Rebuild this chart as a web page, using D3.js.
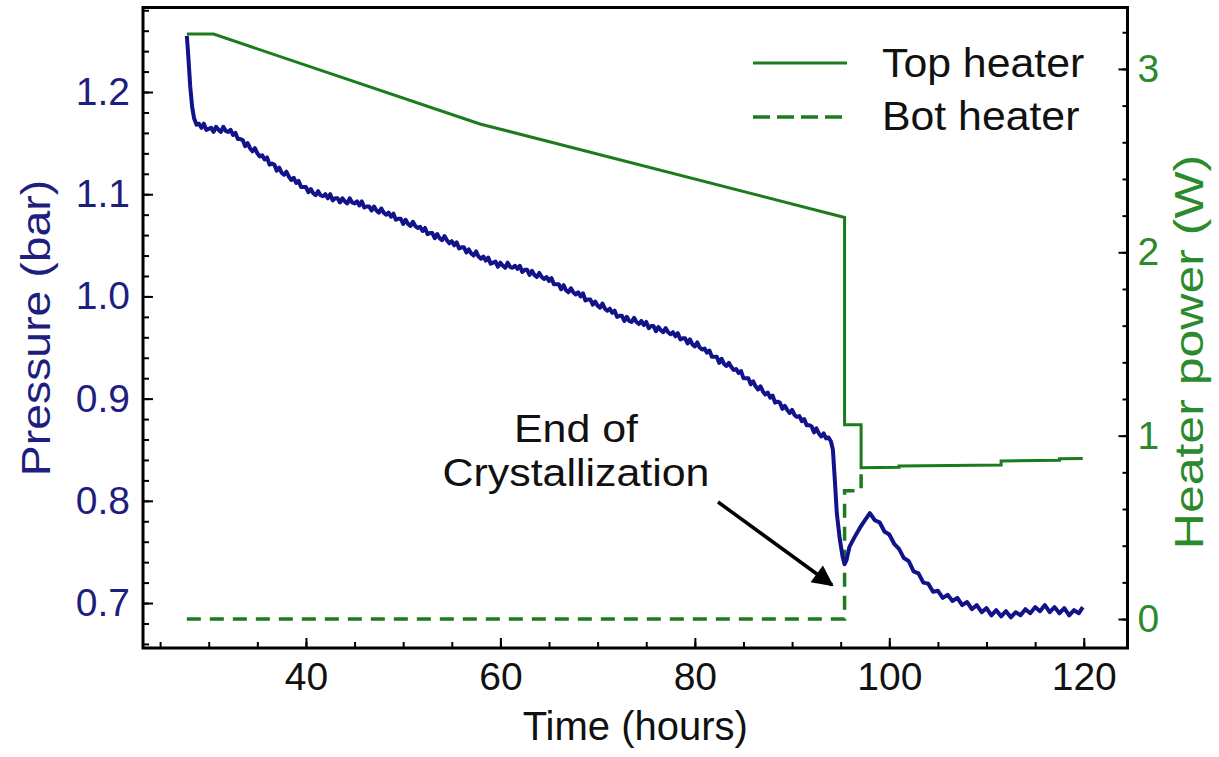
<!DOCTYPE html>
<html>
<head>
<meta charset="utf-8">
<script src="https://cdn.jsdelivr.net/npm/d3@7"></script>
<style>
  html, body { margin: 0; padding: 0; background: #ffffff; }
  svg { display: block; }
  text { font-family: "Liberation Sans", Arial, Helvetica, sans-serif; }
</style>
</head>
<body>
<svg id="chart" width="1219" height="757"></svg>
<script>
// Pressure right after the fill, [time (hours), pressure (bar)]
const pressureStart = [
  [27.75, 1.255], [27.9, 1.235], [28.1, 1.205], [28.3, 1.185], [28.5, 1.174], [28.75, 1.168]
];

// Logged pressure (bar), one reading every 15 minutes from 29.0 h to 93.5 h
const loggedStart = 29.0;
const loggedStep = 0.25;
const pressureLogged = [
  1.169, 1.165, 1.169, 1.163, 1.164, 1.165, 1.161, 1.166, 1.163, 1.161, 1.166, 1.162,
  1.161, 1.163, 1.158, 1.160, 1.154, 1.154, 1.153, 1.147, 1.150, 1.145, 1.142, 1.145,
  1.140, 1.137, 1.138, 1.134, 1.136, 1.129, 1.130, 1.129, 1.123, 1.126, 1.121, 1.119,
  1.122, 1.117, 1.114, 1.116, 1.111, 1.113, 1.107, 1.107, 1.107, 1.102, 1.105, 1.101,
  1.099, 1.103, 1.099, 1.098, 1.100, 1.096, 1.100, 1.094, 1.096, 1.096, 1.092, 1.096,
  1.093, 1.091, 1.096, 1.092, 1.091, 1.093, 1.089, 1.093, 1.087, 1.088, 1.088, 1.084,
  1.088, 1.084, 1.082, 1.086, 1.082, 1.080, 1.082, 1.078, 1.081, 1.075, 1.076, 1.076,
  1.071, 1.075, 1.071, 1.069, 1.073, 1.069, 1.067, 1.068, 1.064, 1.067, 1.061, 1.062,
  1.062, 1.057, 1.061, 1.057, 1.055, 1.059, 1.055, 1.052, 1.054, 1.050, 1.053, 1.047,
  1.048, 1.048, 1.043, 1.046, 1.042, 1.040, 1.044, 1.039, 1.037, 1.039, 1.035, 1.038,
  1.032, 1.033, 1.034, 1.029, 1.033, 1.030, 1.028, 1.033, 1.029, 1.028, 1.030, 1.027,
  1.030, 1.024, 1.026, 1.026, 1.021, 1.025, 1.021, 1.019, 1.023, 1.019, 1.017, 1.019,
  1.015, 1.018, 1.012, 1.012, 1.012, 1.007, 1.011, 1.006, 1.004, 1.008, 1.004, 1.002,
  1.004, 1.000, 1.003, 0.996, 0.997, 0.997, 0.992, 0.995, 0.991, 0.989, 0.993, 0.988,
  0.986, 0.988, 0.984, 0.986, 0.980, 0.981, 0.981, 0.976, 0.980, 0.976, 0.975, 0.979,
  0.975, 0.973, 0.976, 0.972, 0.975, 0.969, 0.971, 0.971, 0.966, 0.970, 0.967, 0.965,
  0.969, 0.965, 0.963, 0.965, 0.961, 0.964, 0.958, 0.959, 0.959, 0.954, 0.958, 0.953,
  0.951, 0.955, 0.950, 0.948, 0.949, 0.945, 0.947, 0.941, 0.941, 0.941, 0.935, 0.939,
  0.934, 0.932, 0.935, 0.931, 0.928, 0.929, 0.925, 0.927, 0.920, 0.920, 0.920, 0.914,
  0.917, 0.912, 0.909, 0.912, 0.907, 0.904, 0.906, 0.901, 0.903, 0.896, 0.897, 0.896,
  0.890, 0.893, 0.889, 0.886, 0.889, 0.884, 0.882, 0.883, 0.878, 0.880, 0.874, 0.874,
  0.873, 0.867, 0.871, 0.866, 0.863, 0.866, 0.861
];

// Pressure through the end of crystallization and after, [time (hours), pressure (bar)]
const pressureEnd = [
  [93.75, 0.862], [94.0, 0.858], [94.2, 0.850], [94.4, 0.820], [94.6, 0.788], [94.9, 0.763],
  [95.2, 0.745], [95.4, 0.738], [95.6, 0.742], [95.9, 0.755], [96.4, 0.764], [97.0, 0.774],
  [97.5, 0.781], [98.0, 0.788], [98.5, 0.781], [99.0, 0.779], [99.5, 0.770], [100.0, 0.767],
  [100.5, 0.758], [101.0, 0.753], [101.5, 0.744], [102.0, 0.741], [102.5, 0.731], [103.0, 0.729],
  [103.5, 0.720], [104.0, 0.719], [104.5, 0.711], [105.0, 0.712], [105.5, 0.705], [106.0, 0.708],
  [106.5, 0.702], [107.0, 0.705], [107.5, 0.698], [108.0, 0.701], [108.5, 0.694], [109.0, 0.698],
  [109.5, 0.691], [110.0, 0.695], [110.5, 0.688], [111.0, 0.693], [111.5, 0.687], [112.0, 0.692],
  [112.5, 0.686], [113.0, 0.691], [113.5, 0.688], [114.0, 0.694], [114.5, 0.690], [115.0, 0.696],
  [115.5, 0.692], [116.0, 0.698], [116.5, 0.691], [117.0, 0.696], [117.5, 0.690], [118.0, 0.695],
  [118.5, 0.688], [119.0, 0.693], [119.5, 0.690], [119.9, 0.696]
];

// Top heater power, [time (hours), power (W)]
const topHeater = [
  [27.75, 3.19], [30.5, 3.19], [57.9, 2.70], [95.4, 2.19], [95.4, 1.06], [97.1, 1.06],
  [97.1, 0.825], [101.0, 0.828], [101.0, 0.835], [111.5, 0.840], [111.5, 0.862],
  [117.5, 0.866], [117.5, 0.874], [119.9, 0.876]
];

// Bottom heater power, [time (hours), power (W)]
const botHeater = [
  [27.75, 0], [95.4, 0], [95.4, 0.70], [97.1, 0.70], [97.1, 0.81]
];

const timeTicks = [40, 60, 80, 100, 120];
const pressureTicks = [0.7, 0.8, 0.9, 1.0, 1.1, 1.2];
const powerTicks = [0, 1, 2, 3];

const legendLabels = ["Top heater", "Bot heater"];
const annotationLines = ["End of", "Crystallization"];

const blue = "#12128a";
const blueText = "#1e1e7e";
const green = "#1d7a1d";
const greenText = "#2b8a2b";

const pressure = pressureStart
  .concat(pressureLogged.map((p, i) => [loggedStart + i * loggedStep, p]))
  .concat(pressureEnd);

const svg = d3.select("#chart");
const plotLeft = 143, plotRight = 1127.5, plotTop = 7.5, plotBottom = 648;

const x = d3.scaleLinear().domain([23.24, 124.5]).range([plotLeft, plotRight]);
const yP = d3.scaleLinear().domain([0.656, 1.2827]).range([plotBottom, plotTop]);
const yW = d3.scaleLinear().domain([-0.158, 3.335]).range([plotBottom, plotTop]);

const tickFont = 39;
const fontStack = "Liberation Sans, Arial, sans-serif";

// minor ticks
svg.append("g").attr("transform", `translate(0,${plotBottom})`)
  .call(d3.axisBottom(x).tickValues(d3.range(25, 121, 5)).tickSize(-6).tickFormat(""))
  .call(g => g.select(".domain").remove());
svg.append("g").attr("transform", `translate(${plotLeft},0)`)
  .call(d3.axisLeft(yP).tickValues(d3.range(0.66, 1.281, 0.02)).tickSize(-6).tickFormat(""))
  .call(g => g.select(".domain").remove());
svg.append("g").attr("transform", `translate(${plotRight},0)`)
  .call(d3.axisRight(yW).tickValues(d3.range(0, 3.21, 0.2)).tickSize(-5).tickFormat(""))
  .call(g => g.select(".domain").remove());

// major ticks with labels
const xAxis = svg.append("g").attr("transform", `translate(0,${plotBottom})`)
  .call(d3.axisBottom(x).tickValues(timeTicks).tickSize(-10).tickPadding(14).tickFormat(d3.format("d")));
xAxis.select(".domain").remove();
xAxis.selectAll("text").attr("font-size", tickFont).attr("fill", "#111").style("font-family", fontStack);

const pAxis = svg.append("g").attr("transform", `translate(${plotLeft},0)`)
  .call(d3.axisLeft(yP).tickValues(pressureTicks).tickSize(-10).tickPadding(13).tickFormat(d3.format(".1f")));
pAxis.select(".domain").remove();
pAxis.selectAll("text").attr("font-size", tickFont).attr("fill", blueText).style("font-family", fontStack);

const wAxis = svg.append("g").attr("transform", `translate(${plotRight},0)`)
  .call(d3.axisRight(yW).tickValues(powerTicks).tickSize(-9).tickPadding(10).tickFormat(d3.format("d")));
wAxis.select(".domain").remove();
wAxis.selectAll("text").attr("font-size", tickFont).attr("fill", greenText).style("font-family", fontStack);

svg.selectAll(".tick line").attr("stroke", "#000").attr("stroke-width", 2);

// data lines
const lineP = d3.line().x(d => x(d[0])).y(d => yP(d[1]));
const lineW = d3.line().x(d => x(d[0])).y(d => yW(d[1]));

svg.append("path").datum(botHeater).attr("d", lineW)
  .attr("fill", "none").attr("stroke", green).attr("stroke-width", 3.5)
  .attr("stroke-dasharray", "14,9");

svg.append("path").datum(topHeater).attr("d", lineW)
  .attr("fill", "none").attr("stroke", green).attr("stroke-width", 3)
  .attr("stroke-linejoin", "miter");

svg.append("path").datum(pressure).attr("d", lineP)
  .attr("fill", "none").attr("stroke", blue).attr("stroke-width", 4)
  .attr("stroke-linejoin", "round");

// frame
svg.append("rect").attr("x", plotLeft).attr("y", plotTop)
  .attr("width", plotRight - plotLeft).attr("height", plotBottom - plotTop)
  .attr("fill", "none").attr("stroke", "#000").attr("stroke-width", 3);

// axis titles
svg.append("text").attr("x", (plotLeft + plotRight) / 2).attr("y", 740)
  .attr("text-anchor", "middle").attr("font-size", 40).attr("fill", "#111")
  .text("Time (hours)");

svg.append("text").attr("transform", "translate(50,328) rotate(-90) scale(1.16,1)")
  .attr("text-anchor", "middle").attr("font-size", 40).attr("fill", blueText)
  .text("Pressure (bar)");

svg.append("text").attr("transform", "translate(1203,352) rotate(-90) scale(1.25,1)")
  .attr("text-anchor", "middle").attr("font-size", 40).attr("fill", greenText)
  .text("Heater power (W)");

// legend
const legend = svg.append("g");
legend.append("line").attr("x1", 753).attr("x2", 847).attr("y1", 63).attr("y2", 63)
  .attr("stroke", green).attr("stroke-width", 3);
legend.append("line").attr("x1", 753).attr("x2", 847).attr("y1", 117).attr("y2", 117)
  .attr("stroke", green).attr("stroke-width", 3.5).attr("stroke-dasharray", "17,7");
legend.selectAll("text.lbl").data(legendLabels).join("text")
  .attr("class", "lbl")
  .attr("transform", (d, i) => `translate(882,${77 + i * 53}) scale(1.07,1)`)
  .attr("font-size", 40).attr("fill", "#111").text(d => d);

// annotation with arrow
svg.append("defs").append("marker")
  .attr("id", "arrowhead").attr("viewBox", "0 0 10 10")
  .attr("refX", 9).attr("refY", 5).attr("markerWidth", 8).attr("markerHeight", 6)
  .attr("markerUnits", "strokeWidth").attr("orient", "auto")
  .append("path").attr("d", "M0,0 L10,5 L0,10 Z").attr("fill", "#000");

svg.append("text")
  .attr("transform", "translate(576,442) scale(1.1,1)")
  .attr("text-anchor", "middle").attr("font-size", 39).attr("fill", "#111")
  .selectAll("tspan").data(annotationLines).join("tspan")
  .attr("x", 0).attr("dy", (d, i) => i === 0 ? 0 : 44).text(d => d);

svg.append("line").attr("x1", 718).attr("y1", 502).attr("x2", 832).attr("y2", 585)
  .attr("stroke", "#000").attr("stroke-width", 3.5).attr("marker-end", "url(#arrowhead)");
</script>
</body>
</html>
